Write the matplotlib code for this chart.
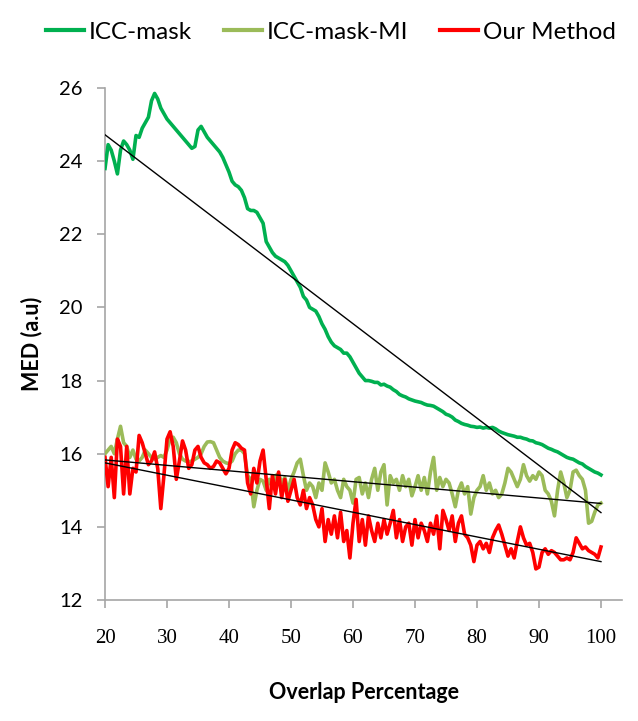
import numpy as np
import matplotlib
matplotlib.use('Agg')
import matplotlib.pyplot as plt

# MED vs overlap, sampled every 0.5 % from 20 to 100
icc_mask = [
    23.8, 24.45, 24.3, 24.0, 23.65, 24.3, 24.55, 24.45, 24.3, 24.05,
    24.7, 24.65, 24.9, 25.05, 25.2, 25.65, 25.85, 25.7, 25.45, 25.3,
    25.15, 25.05, 24.95, 24.85, 24.75, 24.65, 24.55, 24.45, 24.35, 24.4,
    24.85, 24.95, 24.8, 24.65, 24.55, 24.45, 24.35, 24.25, 24.1, 23.9,
    23.7, 23.45, 23.35, 23.3, 23.2, 23.0, 22.7, 22.65, 22.65, 22.6,
    22.45, 22.3, 21.8, 21.65, 21.5, 21.4, 21.35, 21.3, 21.25, 21.15,
    21.0, 20.85, 20.7, 20.55, 20.3, 20.2, 20.0, 19.95, 19.9, 19.75,
    19.55, 19.4, 19.2, 19.05, 18.95, 18.9, 18.85, 18.75, 18.75, 18.65,
    18.5, 18.35, 18.2, 18.1, 18.0, 18.0, 17.98, 17.95, 17.95, 17.88,
    17.9, 17.85, 17.82, 17.75, 17.7, 17.62, 17.58, 17.55, 17.5, 17.47,
    17.44, 17.42, 17.4, 17.36, 17.33, 17.32, 17.3, 17.25, 17.2, 17.15,
    17.08, 17.05, 17.0, 16.92, 16.88, 16.83, 16.8, 16.78, 16.75, 16.74,
    16.72, 16.73, 16.7, 16.72, 16.7, 16.72, 16.68, 16.62, 16.58, 16.55,
    16.52, 16.5, 16.48, 16.45, 16.45, 16.42, 16.4, 16.36, 16.35, 16.3,
    16.28, 16.25, 16.2, 16.15, 16.12, 16.08, 16.05, 16.0, 15.95, 15.9,
    15.87, 15.85, 15.8, 15.75, 15.72, 15.65, 15.6, 15.55, 15.5, 15.47,
    15.42,
]
icc_mask_mi = [
    16.0, 16.1, 16.2, 16.0, 16.4, 16.75, 16.3, 16.2, 15.9, 16.1,
    15.85, 15.8, 15.9, 16.1, 16.0, 15.9, 15.85, 15.9, 15.95, 15.9,
    16.1, 16.4, 16.45, 16.3, 16.0, 15.85, 15.8, 15.78, 15.8, 15.85,
    15.9, 16.0, 16.2, 16.32, 16.33, 16.3, 16.1, 15.9, 15.8, 15.75,
    15.73, 15.8, 16.0, 16.1, 16.1, 16.0, 15.4, 15.3, 14.55, 15.0,
    15.3, 15.25, 15.0, 15.3, 15.1, 15.4, 15.45, 15.2, 15.35, 15.0,
    15.3, 15.5, 15.75, 15.85, 15.4, 15.0, 15.2, 15.1, 14.8, 15.2,
    15.0, 15.75, 15.5, 15.2, 15.3, 15.0, 14.8, 15.3, 15.1, 15.0,
    14.65, 15.3, 15.35, 14.9, 15.2, 14.8, 15.3, 15.6, 15.0, 15.5,
    15.7, 14.6, 15.4, 15.2, 15.3, 15.0, 15.4, 15.1, 15.3, 14.85,
    15.1, 15.4, 15.0, 15.35, 14.9, 15.5, 15.9, 15.0, 15.35, 15.1,
    15.3, 15.2, 14.9, 14.55, 15.0, 15.2, 14.9, 15.1, 14.35, 14.8,
    15.0, 15.1, 15.4, 15.0, 15.2, 14.9, 15.0, 14.8, 14.9, 15.2,
    15.6, 15.5, 15.3, 15.1, 15.3, 15.7, 15.4, 15.25, 15.4, 15.3,
    15.5, 15.4, 15.0, 14.9, 14.7, 14.3, 15.0, 15.5, 15.2, 14.8,
    15.0, 15.5, 15.55, 15.4, 15.3, 15.0, 14.1, 14.15, 14.4, 14.6,
    14.65,
]
our_method = [
    15.9, 15.1, 15.9, 14.8, 16.4, 16.2, 14.9, 16.2, 14.9, 15.6,
    15.5, 16.5, 16.3, 16.0, 15.7, 15.8, 16.05, 15.6, 14.5, 15.4,
    16.4, 16.6, 16.2, 15.3, 15.8, 16.35, 16.1, 15.6, 15.7, 16.1,
    16.2, 15.9, 15.75, 15.7, 15.6, 15.65, 15.8, 15.75, 15.6, 15.45,
    15.6, 16.1, 16.3, 16.25, 16.15, 16.1, 15.2, 14.9, 15.6, 15.2,
    15.8, 16.1, 15.3, 14.5, 15.4, 14.9, 15.5, 14.8, 15.3, 14.7,
    15.0, 15.3, 14.8, 14.6, 15.0, 14.5, 14.8, 14.6, 14.2, 14.0,
    14.5, 13.6, 14.2, 13.8, 14.3, 13.7, 14.4, 13.6, 13.9, 13.15,
    14.1, 14.75, 13.6, 14.2, 13.5, 14.3, 13.9, 13.6, 14.1, 13.7,
    14.2, 13.8, 14.1, 14.45, 13.7, 14.2, 13.6, 14.0, 14.1, 13.5,
    14.2, 13.7, 14.1, 13.9, 13.6, 14.1, 13.8, 14.3, 13.4, 14.45,
    14.2, 13.9, 14.3, 13.6, 14.1, 14.3, 13.8, 13.7, 13.5, 13.05,
    13.5, 13.6, 13.4, 13.55, 13.3, 13.7, 13.9, 14.05, 13.8, 13.5,
    13.2, 13.4, 13.15, 13.6, 14.0, 13.7, 13.5, 13.55, 13.3, 12.85,
    12.9, 13.3, 13.4, 13.25, 13.35, 13.3, 13.2, 13.1, 13.1, 13.15,
    13.1, 13.3, 13.7, 13.55, 13.4, 13.45, 13.35, 13.3, 13.25, 13.15,
    13.45,
]
# linear trendlines as shown (value at overlap 20 and at 100)
trend_icc_mask = [24.72, 14.39]
trend_icc_mask_mi = [15.83, 14.64]
trend_our_method = [15.75, 13.05]
trend_x = [20, 100]

series = [
    ('ICC-mask', icc_mask, trend_icc_mask, '#00b050'),
    ('ICC-mask-MI', icc_mask_mi, trend_icc_mask_mi, '#9bbb59'),
    ('Our Method', our_method, trend_our_method, '#ff0000'),
]
x_ticks = [20, 30, 40, 50, 60, 70, 80, 90, 100]
y_ticks = [12, 14, 16, 18, 20, 22, 24, 26]

fig = plt.figure(figsize=(6.38, 7.21), dpi=100)
ax = fig.add_axes([0.1646, 0.1678, 0.8104, 0.7102])

for name, vals, trend, col in series:
    xs = np.linspace(20, 100, len(vals))
    ax.plot(xs, vals, color=col, lw=2.6, label=name, zorder=3,
            solid_joinstyle='round')
for name, vals, trend, col in series:
    ax.plot(trend_x, trend, color='black', lw=1.0, zorder=4)

ax.set_xlim(20, 103.4)
ax.set_ylim(12, 26)
ax.set_xticks(x_ticks)
ax.set_yticks(y_ticks)
ax.set_xticklabels([str(t) for t in x_ticks], family='Liberation Serif',
                   fontsize=15)
ax.set_yticklabels([str(t) for t in y_ticks], family='Lato', fontsize=14.5)
for s in ('top', 'right'):
    ax.spines[s].set_visible(False)
for s in ('left', 'bottom'):
    ax.spines[s].set_color('#a6a6a6')
    ax.spines[s].set_linewidth(1.2)
ax.tick_params(axis='both', direction='out', length=6, width=1.2,
               color='#a6a6a6', labelcolor='black')
ax.tick_params(axis='x', pad=15)
ax.tick_params(axis='y', pad=10)
ax.set_xlabel('Overlap Percentage', family='Lato', fontsize=15.5,
              fontweight='bold', labelpad=24)
ax.set_ylabel('MED (a.u)', family='Lato', fontsize=15.5, fontweight='bold',
              labelpad=12)

leg = fig.legend(loc='upper center', bbox_to_anchor=(0.519, 1.0), ncol=3,
                 frameon=False, handlelength=1.56, handletextpad=0.22,
                 columnspacing=1.3, prop={'family': 'Lato', 'size': 17.5})
for ln in leg.get_lines():
    ln.set_linewidth(3)

fig.savefig('out.png', dpi=100)
